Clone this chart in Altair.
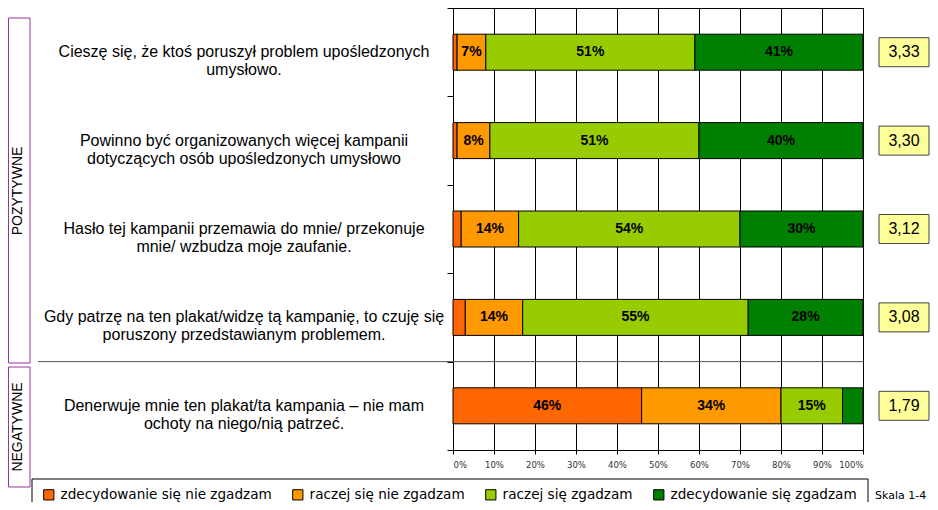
import altair as alt
import pandas as pd

# ---- data ----
statements = [
    "Cieszę się, że ktoś poruszył problem upośledzonych\numysłowo.",
    "Powinno być organizowanych więcej kampanii\ndotyczących osób upośledzonych umysłowo",
    "Hasło tej kampanii przemawia do mnie/ przekonuje\nmnie/ wzbudza moje zaufanie.",
    "Gdy patrzę na ten plakat/widzę tą kampanię, to czuję się\nporuszony przedstawianym problemem.",
    "Denerwuje mnie ten plakat/ta kampania – nie mam\nochoty na niego/nią patrzeć.",
]
series = [
    "zdecydowanie się nie zgadzam",
    "raczej się nie zgadzam",
    "raczej się zgadzam",
    "zdecydowanie się zgadzam",
]
colors = ["#FF6600", "#FF9900", "#99CC00", "#008000"]
strongly_disagree = [1, 1, 2, 3, 46]
rather_disagree = [7, 8, 14, 14, 34]
rather_agree = [51, 51, 54, 55, 15]
strongly_agree = [41, 40, 30, 28, 5]
means = [3.33, 3.30, 3.12, 3.08, 1.79]
groups = ["POZYTYWNE", "NEGATYWNE"]
x_ticks = [0, 10, 20, 30, 40, 50, 60, 70, 80, 90, 100]
scale_note = ["Skala 1-4"]

vals = [strongly_disagree, rather_disagree, rather_agree, strongly_agree]
rows = []
for i, st in enumerate(statements):
    for j, s in enumerate(series):
        rows.append({"stmt": st, "series": s, "order": j, "value": vals[j][i]})
df = pd.DataFrame(rows)
stmt_df = pd.DataFrame({"stmt": statements, "mean": means})

FONT = "Liberation Sans"

y_enc = alt.Y(
    "stmt:N",
    sort=statements,
    title=None,
    scale=alt.Scale(paddingInner=0, paddingOuter=0),
    axis=alt.Axis(
        labels=False, title=None, tickBand="extent", ticks=True, tickSize=6,
        tickColor="black", domainColor="black", grid=False,
    ),
)

bars = alt.Chart(df).mark_bar(size=36, stroke="black", strokeWidth=1).encode(
    x=alt.X(
        "value:Q",
        stack="zero",
        title=None,
        scale=alt.Scale(domain=[0, 100], nice=False),
        axis=alt.Axis(
            values=x_ticks, labelExpr="datum.value + '%'", title=None,
            grid=True, gridColor="black", gridWidth=1, gridOpacity=1,
            tickColor="black", tickSize=4, domainColor="black",
            labelFont="DejaVu Sans", labelFontSize=8.5, labelColor="#333",
            labelPadding=6,
        ),
    ),
    y=y_enc,
    color=alt.Color(
        "series:N",
        sort=series,
        scale=alt.Scale(domain=series, range=colors),
        legend=alt.Legend(
            orient="none", legendX=-411, legendY=480, direction="horizontal",
            title=None, symbolType="square", symbolSize=105,
            symbolStrokeColor="black", symbolStrokeWidth=1, symbolOpacity=1,
            labelFont="DejaVu Sans", labelFontSize=13.6, labelColor="black",
            columnPadding=18, labelOffset=5, padding=0, labelLimit=400,
        ),
    ),
    order=alt.Order("order:Q"),
)

seg_text = (
    alt.Chart(df)
    .transform_stack(stack="value", groupby=["stmt"], as_=["v0", "v1"],
                     sort=[alt.SortField("order")])
    .transform_calculate(mid="(datum.v0 + datum.v1) / 2", lab="datum.value + '%'")
    .transform_filter("datum.value >= 7")
    .mark_text(font=FONT, fontWeight="bold", fontSize=14, color="black")
    .encode(x=alt.X("mid:Q", title=None), y=y_enc, text="lab:N")
)

stmt_text = alt.Chart(stmt_df).mark_text(
    align="center", baseline="middle", lineBreak="\n", lineHeight=18,
    font=FONT, fontSize=16, color="black",
).encode(x=alt.value(-209), y=y_enc, text="stmt:N")

boxes = alt.Chart(stmt_df).mark_bar(
    size=29, orient="horizontal", fill="#FFFF99", stroke="#444", strokeWidth=1,
).encode(x=alt.value(426), x2=alt.value(476), y=y_enc)

mean_text = (
    alt.Chart(stmt_df)
    .transform_calculate(mtxt="replace(format(datum.mean, '.2f'), '.', ',')")
    .mark_text(font=FONT, fontSize=16, color="black", align="center", baseline="middle")
    .encode(x=alt.value(451), y=y_enc, text="mtxt:N")
)

sep = alt.Chart(pd.DataFrame({"stmt": [statements[4]]})).mark_rule(
    color="#555", strokeWidth=1
).encode(
    y=alt.Y("stmt:N", sort=statements, bandPosition=0, title=None),
    x=alt.value(-415), x2=alt.value(410),
)

one = pd.DataFrame({"k": [0]})
pos_box = alt.Chart(one).mark_rect(fill=None, stroke="#993399", strokeWidth=1).encode(
    x=alt.value(-444.5), x2=alt.value(-423), y=alt.value(10), y2=alt.value(355)
)
neg_box = alt.Chart(one).mark_rect(fill=None, stroke="#993399", strokeWidth=1).encode(
    x=alt.value(-444.5), x2=alt.value(-423), y=alt.value(359), y2=alt.value(479)
)
pos_text = alt.Chart(pd.DataFrame({"g": [groups[0]]})).mark_text(
    angle=270, font=FONT, fontSize=14, color="black", align="center", baseline="middle"
).encode(x=alt.value(-435), y=alt.value(183), text="g:N")
neg_text = alt.Chart(pd.DataFrame({"g": [groups[1]]})).mark_text(
    angle=270, font=FONT, fontSize=14, color="black", align="center", baseline="middle"
).encode(x=alt.value(-435), y=alt.value(419), text="g:N")

legend_box = alt.Chart(one).mark_rect(fill=None, stroke="black", strokeWidth=1).encode(
    x=alt.value(-421), x2=alt.value(415), y=alt.value(471), y2=alt.value(530)
)
note = alt.Chart(pd.DataFrame({"t": scale_note})).mark_text(
    font="DejaVu Sans", fontSize=11, color="black", align="left", baseline="middle"
).encode(x=alt.value(422), y=alt.value(488), text="t:N")

chart = (
    alt.layer(bars, seg_text, stmt_text, boxes, mean_text, sep,
              pos_box, neg_box, pos_text, neg_text, legend_box, note)
    .properties(
        width=410, height=442,
        autosize=alt.AutoSizeParams(type="none"),
        padding={"left": 445, "top": 0, "right": 67, "bottom": 52},
        background="white",
    )
    .configure_view(stroke="black", strokeWidth=1)
)

chart.save("out.html", embed_options={"renderer": "svg", "actions": False})
